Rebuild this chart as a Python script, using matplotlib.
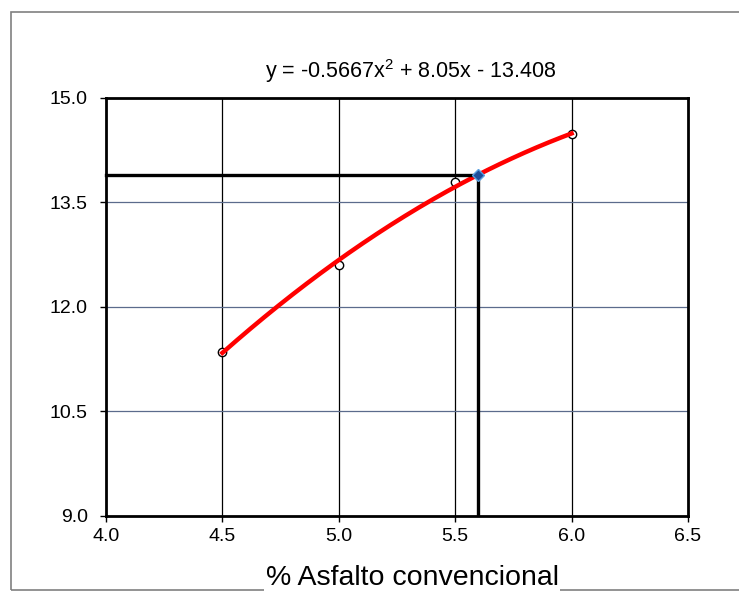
import numpy as np
import matplotlib.pyplot as plt
from matplotlib.patches import Rectangle

plt.rcParams['font.family'] = ['Liberation Sans', 'DejaVu Sans']
plt.rcParams['mathtext.fontset'] = 'custom'
plt.rcParams['mathtext.rm'] = 'Liberation Sans'
plt.rcParams['mathtext.it'] = 'Liberation Sans'

# Datos medidos
asfalto = [4.5, 5.0, 5.5, 6.0]
valores = [11.35, 12.60, 13.80, 14.48]

# Ajuste polinómico (ecuación mostrada)
coef = [-0.5667, 8.05, -13.408]
x_opt = 5.6
y_opt = 13.9

xticks = [4.0, 4.5, 5.0, 5.5, 6.0, 6.5]
yticks = [9.0, 10.5, 12.0, 13.5, 15.0]

fig = plt.figure(figsize=(7.39, 5.92), dpi=100)
ax = fig.add_axes([0.1434, 0.1284, 0.7876, 0.7061])

# marco exterior gris
fig.patches.append(Rectangle((11/739, 0.003), 1.0, 1 - 12/592 - 0.003, transform=fig.transFigure,
                             fill=False, edgecolor='#808080', linewidth=1.2))

ax.set_xlim(4.0, 6.5)
ax.set_ylim(9.0, 15.0)
ax.set_xticks(xticks, [f'{t:.1f}' for t in xticks])
ax.set_yticks(yticks, [f'{t:.1f}' for t in yticks])
ax.tick_params(labelsize=14, direction='out', length=4, width=1)
ax.tick_params(axis='x', pad=5)
ax.tick_params(axis='y', pad=9)

for t in xticks[1:-1]:
    ax.axvline(t, color='black', linewidth=0.9, zorder=1)
for t in yticks[1:-1]:
    ax.axhline(t, color='#5b6b8c', linewidth=0.9, zorder=1)
for s in ax.spines.values():
    s.set_linewidth(2)

# curva de ajuste
xs = np.linspace(min(asfalto), max(asfalto), 200)
ax.plot(xs, np.polyval(coef, xs), color='red', linewidth=3.2, zorder=3)

ax.plot(asfalto, valores, 'o', markerfacecolor='white', markeredgecolor='black',
        markersize=6, markeredgewidth=1, zorder=2)

# lineas del óptimo
ax.plot([4.0, x_opt], [y_opt, y_opt], color='black', linewidth=2.4, zorder=4, clip_on=False)
ax.plot([x_opt, x_opt], [9.0, y_opt], color='black', linewidth=2.4, zorder=4)
ax.plot([x_opt], [y_opt], 'D', markerfacecolor='#1f4e9a', markeredgecolor='#5aa0e0',
        markersize=6, zorder=5)

fig.text(411/739, 1 - 71/592, r'y = -0.5667x$^{2}$ + 8.05x - 13.408', ha='center', va='center', fontsize=15.5)
fig.text(412/739, 1 - 585/592, '% Asfalto convencional', ha='center', va='baseline', fontsize=20.5,
         bbox=dict(facecolor='white', edgecolor='none', pad=1))

fig.savefig('out.png', dpi=100)
